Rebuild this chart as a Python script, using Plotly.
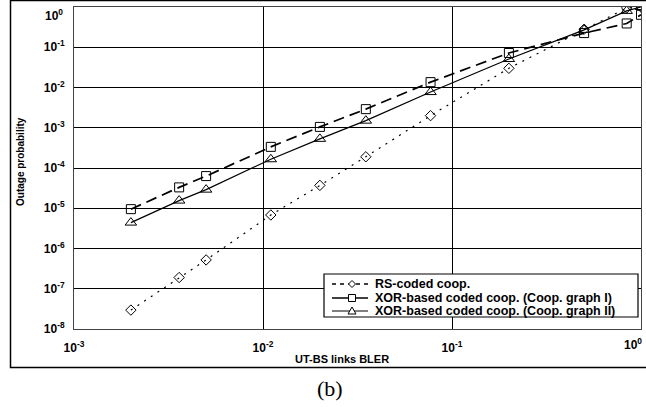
import plotly.graph_objects as go

bler = [0.002, 0.0036, 0.005, 0.011, 0.02, 0.035, 0.077, 0.2, 0.5, 0.84, 1.0]
rs_coded = [2.95e-8, 1.9e-7, 5.2e-7, 6.8e-6, 3.7e-5, 1.9e-4, 2.0e-3, 0.030, 0.28, 0.95, 1.0]
xor_graph1 = [9.5e-6, 3.3e-5, 6.3e-5, 3.35e-4, 1.05e-3, 2.9e-3, 0.0136, 0.072, 0.225, 0.39, 0.64]
xor_graph2 = [4.4e-6, 1.55e-5, 2.9e-5, 1.65e-4, 5.3e-4, 1.5e-3, 7.7e-3, 0.051, 0.27, 0.80, 1.0]

names = ["RS-coded coop.", "XOR-based coded coop. (Coop. graph I)", "XOR-based coded coop. (Coop. graph II)"]

x_tickvals = [1e-3, 1e-2, 1e-1, 1]
x_ticktext = ["10<sup>-3</sup>", "10<sup>-2</sup>", "10<sup>-1</sup>", ""]
y_tickvals = [1e-8, 1e-7, 1e-6, 1e-5, 1e-4, 1e-3, 1e-2, 1e-1, 1]
y_ticktext = ["10<sup>-8</sup>", "10<sup>-7</sup>", "10<sup>-6</sup>", "10<sup>-5</sup>", "10<sup>-4</sup>",
              "10<sup>-3</sup>", "10<sup>-2</sup>", "10<sup>-1</sup>", ""]
top_label = "10<sup>0</sup>"

W, H = 646, 407
ML, MR, MT, MB = 74, 5, 7, 78
PW, PH = W - ML - MR, H - MT - MB


def px(x):
    return (x - ML) / PW


def py(y):
    return (H - MB - y) / PH


styles = [
    dict(line=dict(color="black", width=1.2, dash="2px,6px"), symbol="diamond-open", size=8),
    dict(line=dict(color="black", width=1.7, dash="11px,6px"), symbol="square-open", size=9),
    dict(line=dict(color="black", width=1.2), symbol="triangle-up-open", size=10),
]
series = [rs_coded, xor_graph1, xor_graph2]

fig = go.Figure()
for nm, ys, st in zip(names, series, styles):
    fig.add_trace(go.Scatter(x=bler, y=ys, name=nm, mode="lines+markers", line=st["line"],
                             marker=dict(symbol=st["symbol"], size=st["size"], color="black",
                                         line=dict(width=1, color="black"))))

tickfont = dict(family="Liberation Sans, Arial", size=12, color="black", weight="bold")

fig.update_layout(
    width=W, height=H,
    margin=dict(l=ML, r=MR, t=MT, b=MB),
    paper_bgcolor="white", plot_bgcolor="white",
    showlegend=False,
    xaxis=dict(type="log", range=[-3, 0], tickvals=x_tickvals, ticktext=x_ticktext,
               showgrid=True, gridcolor="black", gridwidth=1, automargin=False,
               showline=True, linecolor="#444", linewidth=1, mirror=True,
               ticks="outside", ticklen=8, tickcolor="rgba(0,0,0,0)",
               ticklabeloverflow="allow",
               tickfont=tickfont, zeroline=False),
    yaxis=dict(type="log", range=[-8, 0], tickvals=y_tickvals, ticktext=y_ticktext,
               showgrid=True, gridcolor="black", gridwidth=1, automargin=False,
               showline=True, linecolor="#444", linewidth=1, mirror=True,
               ticks="outside", ticklen=6, tickcolor="rgba(0,0,0,0)",
               ticklabeloverflow="allow",
               tickfont=tickfont, zeroline=False),
)

# 10^0 labels nudged inside the figure, as in the reference
fig.add_annotation(text=f"<b>{top_label}</b>", xref="paper", yref="paper",
                   x=px(65), y=py(15), xanchor="right", yanchor="middle", showarrow=False,
                   font=dict(family="Liberation Sans, Arial", size=12, color="black"))
fig.add_annotation(text=f"<b>{top_label}</b>", xref="paper", yref="paper",
                   x=px(633), y=py(344), xanchor="center", yanchor="middle", showarrow=False,
                   font=dict(family="Liberation Sans, Arial", size=12, color="black"))

fig.add_annotation(text="<b>UT-BS links BLER</b>", xref="paper", yref="paper",
                   x=px(342), y=py(359), xanchor="center", yanchor="middle", showarrow=False,
                   font=dict(family="Liberation Sans, Arial", size=11, color="black"))
fig.add_annotation(text="<b>Outage probability</b>", xref="paper", yref="paper",
                   x=px(20), y=py(162), xanchor="center", yanchor="middle", showarrow=False,
                   textangle=-90,
                   font=dict(family="Liberation Sans, Arial", size=10, color="black"))
fig.add_annotation(text="(b)", xref="paper", yref="paper",
                   x=px(330), y=py(389), xanchor="center", yanchor="middle", showarrow=False,
                   font=dict(family="Liberation Serif, Times New Roman", size=22, color="black"))

# outer frame
fig.add_shape(type="rect", xref="paper", yref="paper",
              x0=px(10.5), x1=px(720), y0=py(367.5), y1=py(0.5),
              line=dict(color="black", width=1.5), layer="below")

# custom legend
fig.add_shape(type="rect", xref="paper", yref="paper",
              x0=px(324), x1=px(638), y0=py(317), y1=py(274),
              line=dict(color="black", width=1.2), fillcolor="white", layer="above")
leg_y = [284, 298, 311]
for i, (nm, st) in enumerate(zip(names, styles)):
    yy = leg_y[i]
    if i == 0:
        ldash = "4px,4px"
        lw = 1.5
    else:
        ldash = "solid"
        lw = st["line"]["width"]
    fig.add_shape(type="line", xref="paper", yref="paper",
                  x0=px(332), x1=px(368), y0=py(yy), y1=py(yy),
                  line=dict(color="black", width=lw, dash=ldash), layer="above")
    cx, s = 352, 3.5
    if i == 0:
        path = f"M{px(cx-s)},{py(yy)} L{px(cx)},{py(yy-s)} L{px(cx+s)},{py(yy)} L{px(cx)},{py(yy+s)} Z"
    elif i == 1:
        path = f"M{px(cx-s)},{py(yy-s)} L{px(cx+s)},{py(yy-s)} L{px(cx+s)},{py(yy+s)} L{px(cx-s)},{py(yy+s)} Z"
    else:
        path = f"M{px(cx-s-0.5)},{py(yy+3)} L{px(cx+s+0.5)},{py(yy+3)} L{px(cx)},{py(yy-4)} Z"
    fig.add_shape(type="path", xref="paper", yref="paper", path=path,
                  line=dict(color="black", width=1), fillcolor="white", layer="above")
    fig.add_annotation(text=f"<b>{nm}</b>", xref="paper", yref="paper",
                       x=px(373), y=py(yy), xanchor="left", yanchor="middle", showarrow=False,
                       font=dict(family="Liberation Sans, Arial", size=12.5, color="black"))

fig.write_html("out.html", config={"displayModeBar": False},
               post_script="document.body.style.margin='0';document.body.style.overflow='hidden';")
